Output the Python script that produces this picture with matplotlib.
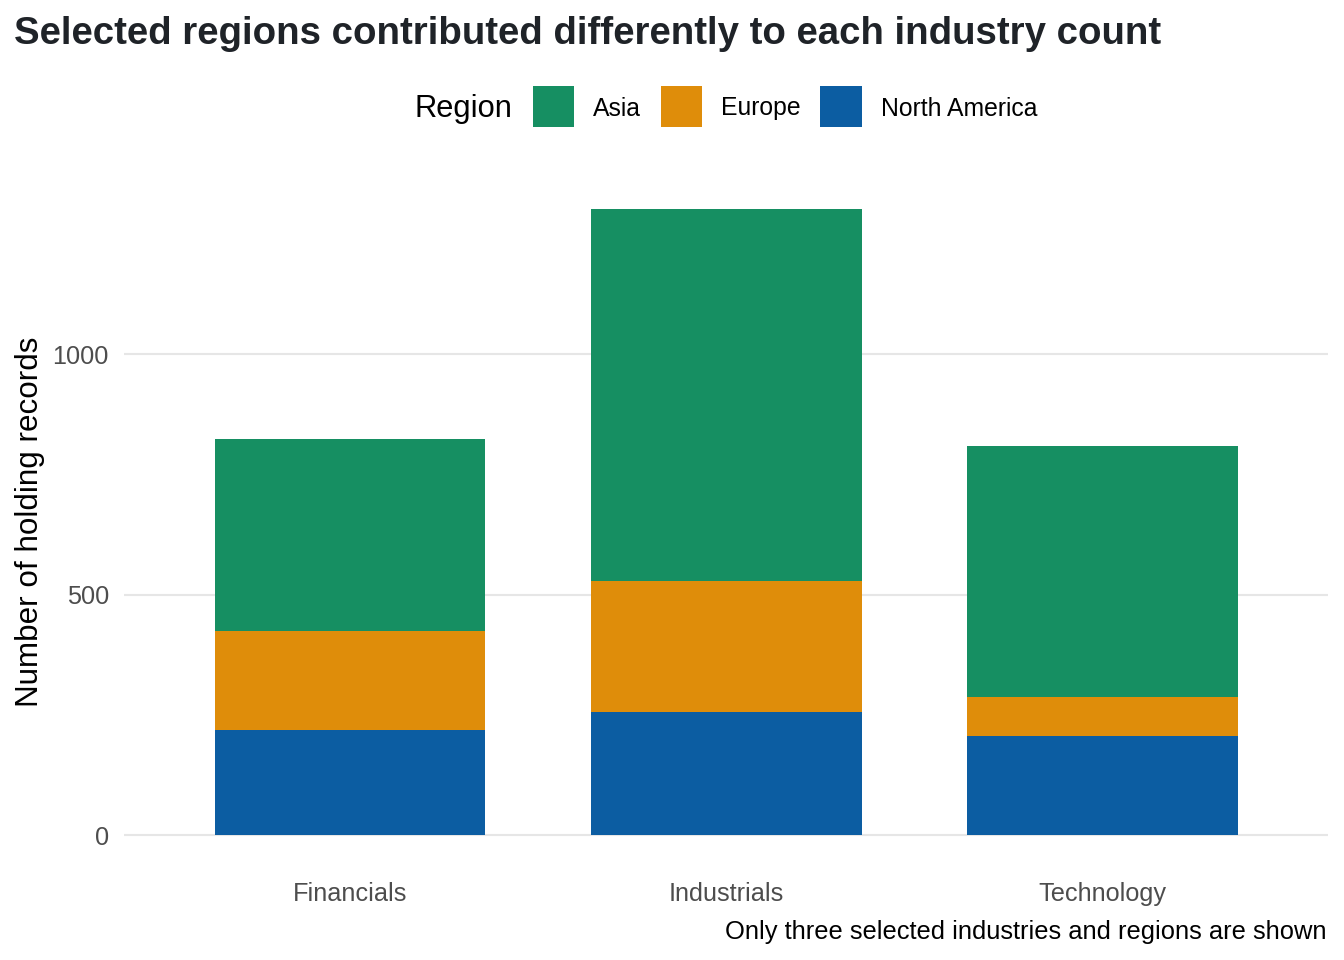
import matplotlib
matplotlib.use("Agg")
import matplotlib.pyplot as plt
from matplotlib.patches import Rectangle
import numpy as np

plt.rcParams['font.family'] = ['Liberation Sans', 'DejaVu Sans']

# ---- data ----
industries = ["Financials", "Industrials", "Technology"]
regions = ["North America", "Europe", "Asia"]          # stacking order bottom -> top
north_america = [219, 256, 206]
europe = [206, 272, 81]
asia = [399, 774, 522]
region_colors = {"Asia": "#168F62", "Europe": "#DF8D0A", "North America": "#0C5DA2"}
legend_order = ["Asia", "Europe", "North America"]
y_ticks = [0, 500, 1000]

title = "Selected regions contributed differently to each industry count"
y_label = "Number of holding records"
caption = "Only three selected industries and regions are shown"

# ---- figure ----
W, H = 1344, 960
fig = plt.figure(figsize=(W / 100, H / 100), dpi=100)
px_l, px_r, px_t, px_b = 124.4, 1328.0, 177.6, 866.4
ax = fig.add_axes([px_l / W, 1 - px_b / H, (px_r - px_l) / W, (px_b - px_t) / H])

series = {"North America": north_america, "Europe": europe, "Asia": asia}
x = np.arange(len(industries))
bottom = np.zeros(len(industries))
for r in regions:
    vals = np.array(series[r], dtype=float)
    ax.bar(x, vals, bottom=bottom, width=0.72, color=region_colors[r],
           linewidth=0, zorder=2)
    bottom += vals

ymax = bottom.max()
ax.set_ylim(-0.05 * ymax, 1.05 * ymax)
ax.set_xlim(-0.6, len(industries) - 0.4)

ax.set_yticks(y_ticks)
ax.set_yticklabels([str(v) for v in y_ticks])
ax.set_xticks(x)
ax.set_xticklabels(industries)
ax.tick_params(axis='both', length=0, labelsize=18.2, labelcolor='#4D4D4D')
ax.tick_params(axis='y', pad=11.1)
ax.tick_params(axis='x', pad=11.0)
ax.grid(axis='y', color='#E6E6E6', linewidth=1.5, zorder=0)
ax.grid(axis='x', visible=False)
ax.set_axisbelow(True)
for s in ax.spines.values():
    s.set_visible(False)
ax.set_facecolor('white')

# y label
fig.text(37.7 / W, 1 - 522 / H, y_label, rotation=90, rotation_mode='anchor',
         ha='center', va='baseline', fontsize=22.6, color='black')

# title
fig.text(14.5 / W, 1 - 44.3 / H, title, ha='left', va='baseline',
         fontsize=27.6, fontweight='bold', color='#1F2328')

# caption
fig.text(1326.5 / W, 1 - 938.5 / H, caption, ha='right', va='baseline',
         fontsize=18.4, color='black')

# ---- legend (horizontal, title on the left) ----
renderer = fig.canvas.get_renderer()
key = 41.7
gap_title = 20.0
gap_key_text = 19.0
gap_text_key = 19.4
leg_cy = 106.5
leg_title = fig.text(0, 0, "Region", fontsize=22.2, color='black', ha='left', va='center')
labels = [fig.text(0, 0, r, fontsize=17.8, color='black', ha='left', va='center')
          for r in legend_order]
tw = leg_title.get_window_extent(renderer).width
lws = [t.get_window_extent(renderer).width for t in labels]
total = tw + gap_title + sum(key + gap_key_text + w for w in lws) + gap_text_key * (len(lws) - 1)
cx = (px_l + px_r) / 2
xcur = cx - total / 2
leg_title.set_position((xcur / W, 1 - (leg_cy + 2) / H))
xcur += tw + gap_title
for r, t, w in zip(legend_order, labels, lws):
    fig.add_artist(Rectangle((xcur / W, 1 - (leg_cy + key / 2) / H), key / W, key / H,
                             transform=fig.transFigure, facecolor=region_colors[r],
                             edgecolor='none'))
    xcur += key + gap_key_text
    t.set_position((xcur / W, 1 - (leg_cy + 2) / H))
    xcur += w + gap_text_key

fig.savefig("out.png", dpi=100, facecolor='white')
